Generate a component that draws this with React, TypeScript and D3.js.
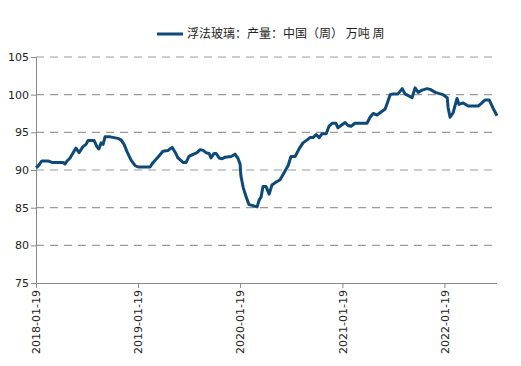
import React, { useRef, useEffect } from 'react';
import * as d3 from 'd3';

const seriesName = '浮法玻璃：产量：中国（周） 万吨 周';

const dates = [
  '2018-01-19', '2018-01-26', '2018-02-09', '2018-03-03', '2018-03-17', '2018-04-26', '2018-05-03', '2018-05-10',
  '2018-05-21', '2018-06-04', '2018-06-11', '2018-06-22', '2018-07-06', '2018-07-17', '2018-07-24', '2018-08-15',
  '2018-08-25', '2018-09-01', '2018-09-09', '2018-09-16', '2018-09-23', '2018-10-11', '2018-11-08', '2018-11-19',
  '2018-11-30', '2018-12-11', '2018-12-25', '2019-01-08', '2019-01-19', '2019-03-03', '2019-03-14', '2019-03-31',
  '2019-04-18', '2019-05-06', '2019-05-21', '2019-05-31', '2019-06-11', '2019-06-29', '2019-07-10', '2019-07-20',
  '2019-07-31', '2019-08-18', '2019-08-29', '2019-09-09', '2019-09-19', '2019-09-30', '2019-10-07', '2019-10-18',
  '2019-10-25', '2019-11-05', '2019-11-16', '2019-11-26', '2019-12-18', '2020-01-01', '2020-01-12', '2020-01-19',
  '2020-01-22', '2020-01-30', '2020-02-09', '2020-02-20', '2020-03-02', '2020-03-20', '2020-03-27', '2020-04-03',
  '2020-04-10', '2020-04-21', '2020-05-02', '2020-05-12', '2020-05-27', '2020-06-10', '2020-06-24', '2020-07-09',
  '2020-07-19', '2020-08-03', '2020-08-17', '2020-08-31', '2020-09-15', '2020-09-25', '2020-10-06', '2020-10-17',
  '2020-10-28', '2020-11-07', '2020-11-22', '2020-12-02', '2020-12-13', '2020-12-27', '2021-01-03', '2021-01-14',
  '2021-01-29', '2021-02-08', '2021-02-19', '2021-03-05', '2021-04-17', '2021-04-28', '2021-05-09', '2021-05-23',
  '2021-06-10', '2021-06-21', '2021-07-09', '2021-07-19', '2021-08-06', '2021-08-21', '2021-08-31', '2021-09-15',
  '2021-09-25', '2021-10-06', '2021-10-17', '2021-10-31', '2021-11-18', '2021-11-29', '2021-12-17', '2022-01-04',
  '2022-01-14', '2022-01-29', '2022-02-01', '2022-02-08', '2022-02-19', '2022-03-05', '2022-03-12', '2022-03-27',
  '2022-04-14', '2022-05-20', '2022-05-30', '2022-06-14', '2022-06-28', '2022-07-12', '2022-07-26',
];

const values = [
  90.3, 90.5, 91.2, 91.2, 91.0, 91.0, 90.8, 91.2,
  91.6, 92.5, 92.9, 92.3, 93.1, 93.4, 93.9, 93.9,
  93.1, 92.8, 93.6, 93.4, 94.4, 94.4, 94.2, 94.0,
  93.4, 92.4, 91.3, 90.6, 90.4, 90.4, 91.0, 91.7,
  92.5, 92.6, 93.0, 92.4, 91.6, 91.0, 91.0, 91.8,
  92.0, 92.3, 92.7, 92.6, 92.3, 92.2, 91.6, 92.2,
  92.2, 91.6, 91.5, 91.7, 91.8, 92.1, 91.5, 90.8,
  89.2, 87.7, 86.5, 85.4, 85.3, 85.1, 86.0, 86.4,
  87.8, 87.8, 86.8, 88.0, 88.4, 88.7, 89.6, 90.6,
  91.8, 91.8, 92.8, 93.6, 94.0, 94.3, 94.3, 94.7,
  94.3, 94.8, 94.8, 95.8, 96.2, 96.2, 95.6, 95.9,
  96.3, 95.9, 95.8, 96.2, 96.2, 97.0, 97.5, 97.3,
  97.8, 98.1, 100.0, 100.1, 100.1, 100.8, 100.1, 99.8,
  99.6, 100.9, 100.3, 100.6, 100.8, 100.7, 100.3, 100.1,
  100.0, 99.6, 98.3, 97.0, 97.6, 99.5, 98.7, 98.9,
  98.5, 98.5, 98.8, 99.3, 99.3, 98.2, 97.2,
];

const xTickLabels = ['2018-01-19', '2019-01-19', '2020-01-19', '2021-01-19', '2022-01-19'];
const yTicks = [75, 80, 85, 90, 95, 100, 105];

const W = 521;
const H = 366;
const lineColor = '#0d4a7a';
const numFont = '"DejaVu Sans", sans-serif';
const cjkFont = '"Noto Sans CJK SC", sans-serif';

const App = () => {
  const ref = useRef<SVGSVGElement>(null);

  useEffect(() => {
    if (!ref.current) return;
    const svg = d3.select(ref.current);
    svg.selectAll('*').remove();

    const parse = d3.timeParse('%Y-%m-%d');
    const data = dates.map((d, i) => ({ date: parse(d) as Date, value: values[i] }));

    const x = d3.scaleTime()
      .domain([parse('2018-01-19') as Date, parse('2022-07-26') as Date])
      .range([36, 497]);

    const y = d3.scaleLinear().domain([75, 105]).range([283, 57]);

    svg.append('rect').attr('width', W).attr('height', H).attr('fill', '#fff');

    // grid
    svg.append('g')
      .selectAll('line')
      .data(yTicks.filter(t => t !== 75))
      .join('line')
      .attr('x1', 36)
      .attr('x2', 498)
      .attr('y1', d => y(d))
      .attr('y2', d => y(d))
      .attr('stroke', '#9a9a9a')
      .attr('stroke-width', 1.2)
      .attr('stroke-dasharray', '8,6');

    // y axis
    svg.append('g')
      .attr('transform', 'translate(36,0)')
      .call(d3.axisLeft(y).tickValues(yTicks).tickSize(5).tickPadding(2).tickFormat(d3.format('d')))
      .call(g => g.select('.domain').attr('stroke', '#888'))
      .call(g => g.selectAll('.tick line').attr('stroke', '#888'))
      .call(g => g.selectAll('.tick text')
        .attr('fill', '#222')
        .style('font-family', numFont)
        .style('font-size', '11px'));

    // x axis
    svg.append('g')
      .attr('transform', 'translate(0,283)')
      .call(d3.axisBottom(x)
        .tickValues(xTickLabels.map(s => parse(s) as Date))
        .tickSize(5)
        .tickFormat(d => d3.timeFormat('%Y-%m-%d')(d as Date)))
      .call(g => g.select('.domain').attr('stroke', '#888').attr('d', 'M36,0.5H497'))
      .call(g => g.selectAll('.tick line').attr('stroke', '#888'))
      .call(g => g.selectAll('.tick text')
        .attr('fill', '#222')
        .style('font-family', numFont)
        .style('font-size', '11px')
        .attr('transform', 'rotate(-90)')
        .attr('text-anchor', 'end')
        .attr('x', -7)
        .attr('y', 0)
        .attr('dy', '0.35em'));

    const line = d3.line<{ date: Date; value: number }>()
      .x(d => x(d.date))
      .y(d => y(d.value));

    svg.append('path')
      .datum(data)
      .attr('fill', 'none')
      .attr('stroke', lineColor)
      .attr('stroke-width', 3)
      .attr('stroke-linejoin', 'round')
      .attr('d', line);

    // legend
    const legend = svg.append('g');
    legend.append('line')
      .attr('x1', 157).attr('x2', 183)
      .attr('y1', 34).attr('y2', 34)
      .attr('stroke', lineColor)
      .attr('stroke-width', 3);
    legend.append('text')
      .attr('x', 187)
      .attr('y', 38)
      .attr('fill', '#222')
      .style('font-family', cjkFont)
      .style('font-size', '12px')
      .text(seriesName);
  }, []);

  return (
    <svg ref={ref} width={W} height={H} style={{ position: 'absolute', left: 0, top: 0 }} />
  );
};

export default App;
